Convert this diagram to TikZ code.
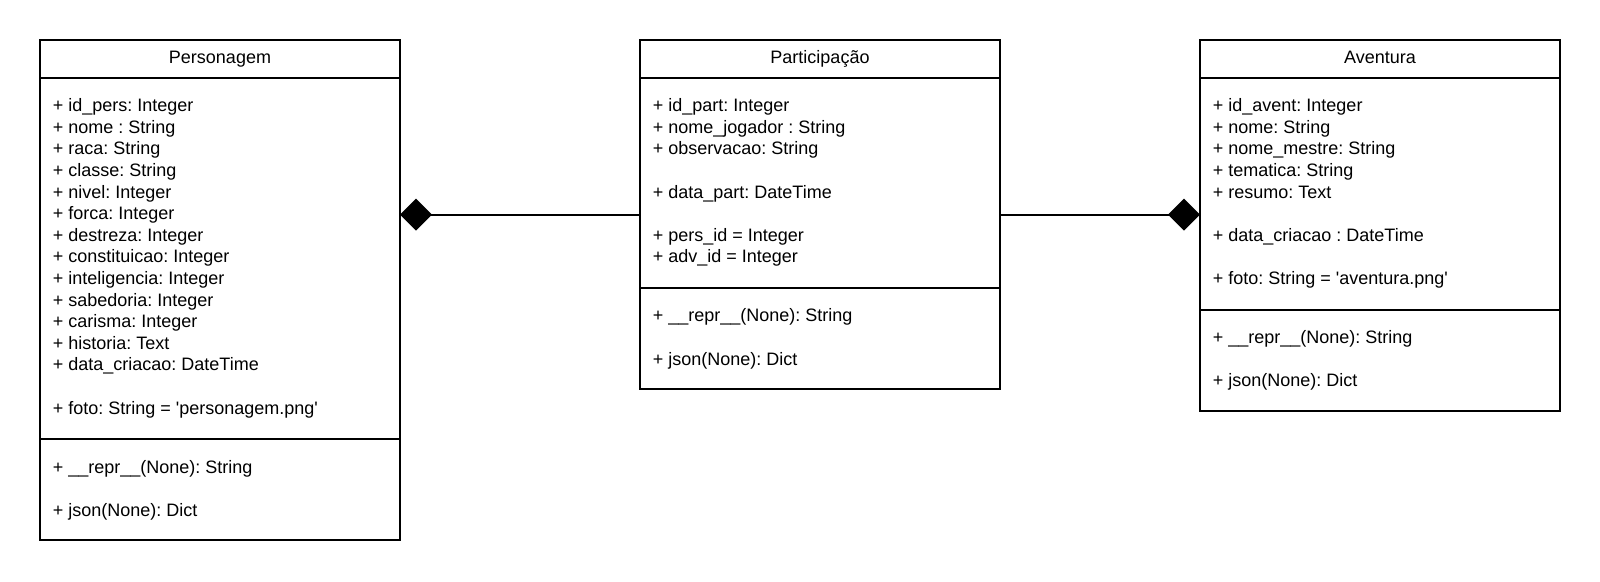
\documentclass[tikz,border=0pt]{standalone}
\usepackage{fontspec}
\setmainfont{Liberation Sans}
\usetikzlibrary{arrows.meta,calc}
\frenchspacing
\begin{document}
\begin{tikzpicture}[x=1pt,y=-1pt,
  box/.style={draw, line width=1.8pt, minimum width=360pt, anchor=north west, inner sep=0, outer sep=0},
  txt/.style={anchor=base west, inner sep=0, font=\fontsize{18}{21.6}\selectfont},
  ttl/.style={anchor=base, inner sep=0, font=\fontsize{18}{21.6}\selectfont},
  sep/.style={line width=1.8pt},
  conn/.style={line width=1.8pt, -{Diamond[length=32pt,width=32pt]}}]
\useasboundingbox (0,0) rectangle (1600,581);
% boxes
\node[box, minimum height=500pt] (pers) at (40,40) {};
\node[box, minimum height=349.3pt] (part) at (640,40) {};
\node[box, minimum height=371pt] (avent) at (1200,40) {};
% dividers
\draw[sep] ($(pers.north west)+(0,37.7)$) -- ($(pers.north east)+(0,37.7)$);
\draw[sep] ($(pers.north west)+(0,399)$) -- ($(pers.north east)+(0,399)$);
\draw[sep] ($(part.north west)+(0,37.7)$) -- ($(part.north east)+(0,37.7)$);
\draw[sep] ($(part.north west)+(0,247.7)$) -- ($(part.north east)+(0,247.7)$);
\draw[sep] ($(avent.north west)+(0,37.7)$) -- ($(avent.north east)+(0,37.7)$);
\draw[sep] ($(avent.north west)+(0,270)$) -- ($(avent.north east)+(0,270)$);
% titles
\node[ttl] (persT) at (220,63.3) {Personagem};
\node[ttl] (partT) at (820,63.3) {Participação};
\node[ttl] (aventT) at (1380,63.3) {Aventura};
% Personagem attributes
\foreach \t [count=\i from 0] in {{+ id\_pers: Integer},{+ nome : String},{+ raca: String},{+ classe: String},{+ nivel: Integer},{+ forca: Integer},{+ destreza: Integer},{+ constituicao: Integer},{+ inteligencia: Integer},{+ sabedoria: Integer},{+ carisma: Integer},{+ historia: Text},{+ data\_criacao: DateTime}}
  \node[txt] (pa\i) at (52.7,{111.7+21.6*\i}) {\t};
\node[txt] (pafoto) at (52.7,{111.7+21.6*14}) {+ foto: String = \textquotesingle personagem.png\textquotesingle};
\node[txt] (pm1) at (52.7,473.4) {+ \_\_repr\_\_(None): String};
\node[txt] (pm2) at (52.7,516.7) {+ json(None): Dict};
% Participacao attributes
\node[txt] (qa0) at (652.7,111.7) {+ id\_part: Integer};
\node[txt] (qa1) at (652.7,{111.7+21.6}) {+ nome\_jogador : String};
\node[txt] (qa2) at (652.7,{111.7+21.6*2}) {+ observacao: String};
\node[txt] (qa4) at (652.7,{111.7+21.6*4}) {+ data\_part: DateTime};
\node[txt] (qa6) at (652.7,{111.7+21.6*6}) {+ pers\_id = Integer};
\node[txt] (qa7) at (652.7,{111.7+21.6*7}) {+ adv\_id = Integer};
\node[txt] (qm1) at (652.7,321.7) {+ \_\_repr\_\_(None): String};
\node[txt] (qm2) at (652.7,365) {+ json(None): Dict};
% Aventura attributes
\foreach \t [count=\i from 0] in {{+ id\_avent: Integer},{+ nome: String},{+ nome\_mestre: String},{+ tematica: String},{+ resumo: Text}}
  \node[txt] (aa\i) at (1212.7,{111.7+21.6*\i}) {\t};
\node[txt] (aa6) at (1212.7,{111.7+21.6*6}) {+ data\_criacao : DateTime};
\node[txt] (aa8) at (1212.7,{111.7+21.6*8}) {+ foto: String = \textquotesingle aventura.png\textquotesingle};
\node[txt] (am1) at (1212.7,343.4) {+ \_\_repr\_\_(None): String};
\node[txt] (am2) at (1212.7,386.7) {+ json(None): Dict};
% connectors
\draw[conn] (part.west) -- (pers.east |- part.west);
\draw[conn] (part.east) -- (avent.west |- part.east);
\end{tikzpicture}
\end{document}
